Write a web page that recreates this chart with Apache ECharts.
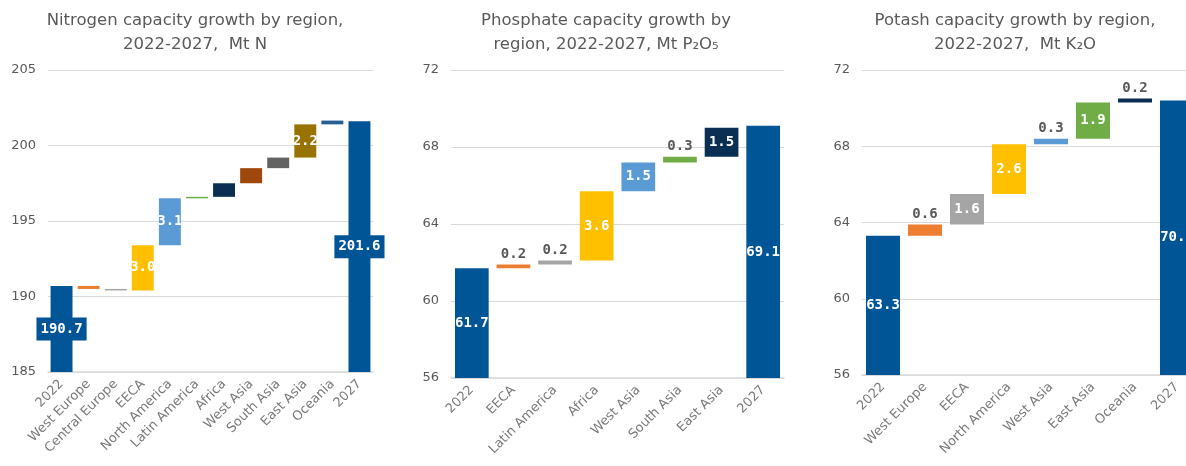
<!DOCTYPE html>
<html>
<head>
<meta charset="utf-8">
<title>Fertilizer capacity growth by region</title>
<script src="https://cdn.jsdelivr.net/npm/echarts@6/dist/echarts.min.js"></script>
<style>
  html, body { margin: 0; padding: 0; background: #fff; }
  #main { width: 1186px; height: 466px; }
</style>
</head>
<body>
<div id="main"></div>
<script>
// Nitrogen, Mt N
var nCategories = ["2022", "West Europe", "Central Europe", "EECA", "North America", "Latin America",
  "Africa", "West Asia", "South Asia", "East Asia", "Oceania", "2027"];
var nStart = 190.7;
var nDeltas = [-0.2, -0.1, 3.0, 3.1, 0.1, 0.9, 1.0, 0.7, 2.2, 0.25];
var nEnd = 201.6;
var nAxis = [185, 205, 5]; // min, max, step

// Phosphate, Mt P2O5
var pCategories = ["2022", "EECA", "Latin America", "Africa", "West Asia", "South Asia", "East Asia", "2027"];
var pStart = 61.7;
var pDeltas = [0.2, 0.2, 3.6, 1.5, 0.3, 1.5];
var pEnd = 69.1;
var pAxis = [56, 72, 4];

// Potash, Mt K2O
var kCategories = ["2022", "West Europe", "EECA", "North America", "West Asia", "East Asia", "Oceania", "2027"];
var kStart = 63.3;
var kDeltas = [0.6, 1.6, 2.6, 0.3, 1.9, 0.2];
var kEnd = 70.4;
var kAxis = [56, 72, 4];

// colours (style only)
var BLUE = "#005596";
var nColors = [BLUE, "#ED7D31", "#A5A5A5", "#FFC000", "#5B9BD5", "#70AD47", "#0B2F52", "#9E480E", "#636363", "#997300", "#255E91", BLUE];
var pColors = [BLUE, "#ED7D31", "#A5A5A5", "#FFC000", "#5B9BD5", "#70AD47", "#0B2F52", BLUE];
var kColors = [BLUE, "#ED7D31", "#A5A5A5", "#FFC000", "#5B9BD5", "#70AD47", "#0B2F52", BLUE];

var textGray = "#595959";
var labelFont = "DejaVu Sans Mono";
var axisFont = "DejaVu Sans";

var option = {
  animation: false,
  backgroundColor: "#fff",
  title: [],
  grid: [],
  xAxis: [],
  yAxis: [],
  series: []
};

function totalLabel(v, boxed) {
  var l = {
    show: true,
    position: "inside",
    formatter: v.toFixed(1),
    color: "#fff",
    fontFamily: labelFont,
    fontWeight: "bold",
    fontSize: 14
  };
  if (boxed) {
    // label is wider than the thin bar, so it gets its own box
    l.backgroundColor = BLUE;
    l.padding = [5, 4, 4, 4];
  }
  return l;
}

function addPanel(idx, cats, start, deltas, end, colors, axis, cfg) {
  var base = [], vals = [];
  var yMin = axis[0];

  base.push(yMin);
  vals.push({ value: start - yMin, itemStyle: { color: colors[0] }, label: totalLabel(start, cfg.totalBox) });

  var cum = start;
  deltas.forEach(function (d, i) {
    var lo = Math.min(cum, cum + d);
    cum = cum + d;
    base.push(lo);
    var lbl = { show: false };
    var a = Math.abs(d);
    if (a >= cfg.insideMin) {
      lbl = { show: true, position: "inside", formatter: a.toFixed(1), color: "#fff",
        fontFamily: labelFont, fontWeight: "bold", fontSize: 14 };
    } else if (cfg.showSmall) {
      lbl = { show: true, position: "top", distance: 3, formatter: a.toFixed(1), color: textGray,
        fontFamily: labelFont, fontWeight: "bold", fontSize: 14 };
    }
    vals.push({ value: a, itemStyle: { color: colors[i + 1] }, label: lbl });
  });

  base.push(yMin);
  vals.push({ value: end - yMin, itemStyle: { color: colors[colors.length - 1] }, label: totalLabel(end, cfg.totalBox) });

  option.title.push({
    text: cfg.title,
    left: cfg.titleX,
    top: 4,
    textAlign: "center",
    textStyle: { fontFamily: axisFont, fontSize: 16.5, fontWeight: "normal", color: textGray, lineHeight: 24 }
  });
  // v6 squeezes grids to keep labels inside; switch that off
  cfg.grid.outerBoundsMode = "none";
  option.grid.push(cfg.grid);
  option.xAxis.push({
    type: "category",
    gridIndex: idx,
    data: cats,
    axisTick: { show: false },
    axisLine: { lineStyle: { color: "#D9D9D9", width: 1.5 } },
    axisLabel: { rotate: 45, interval: 0, margin: 10, color: "#7A7A7A", fontFamily: axisFont, fontSize: 13 }
  });
  option.yAxis.push({
    type: "value",
    gridIndex: idx,
    min: axis[0],
    max: axis[1],
    interval: axis[2],
    axisLine: { show: false },
    axisTick: { show: false },
    splitLine: { lineStyle: { color: "#D9D9D9", width: 1.2 } },
    axisLabel: { margin: 12, color: textGray, fontFamily: axisFont, fontSize: 13 }
  });
  option.series.push({
    type: "bar",
    xAxisIndex: idx,
    yAxisIndex: idx,
    stack: "s" + idx,
    silent: true,
    barCategoryGap: "19%",
    itemStyle: { color: "transparent" },
    data: base
  });
  option.series.push({
    type: "bar",
    xAxisIndex: idx,
    yAxisIndex: idx,
    stack: "s" + idx,
    barCategoryGap: "19%",
    data: vals
  });
}

addPanel(0, nCategories, nStart, nDeltas, nEnd, nColors, nAxis, {
  title: "Nitrogen capacity growth by region,\n2022-2027,  Mt N",
  titleX: 190,
  grid: { left: 48, top: 70, width: 325, height: 302 },
  insideMin: 2,
  showSmall: false,
  totalBox: true
});
addPanel(1, pCategories, pStart, pDeltas, pEnd, pColors, pAxis, {
  title: "Phosphate capacity growth by\nregion, 2022-2027, Mt P\u2082O\u2085",
  titleX: 601,
  grid: { left: 451, top: 70, width: 333, height: 308 },
  insideMin: 1,
  showSmall: true,
  totalBox: false
});
// the potash plot runs past the right edge of the picture
addPanel(2, kCategories, kStart, kDeltas, kEnd, kColors, kAxis, {
  title: "Potash capacity growth by region,\n2022-2027,  Mt K\u2082O",
  titleX: 1010,
  grid: { left: 862, top: 70, width: 336, height: 305 },
  insideMin: 1,
  showSmall: true,
  totalBox: false
});

var myChart = echarts.init(document.getElementById("main"));
myChart.setOption(option);
</script>
</body>
</html>
